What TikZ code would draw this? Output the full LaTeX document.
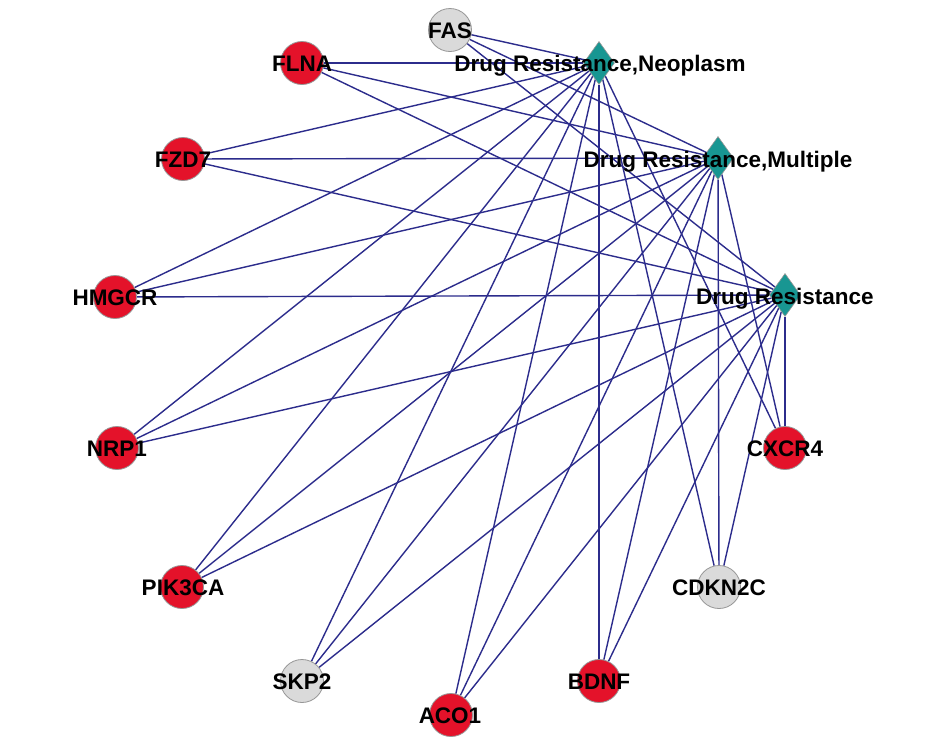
\documentclass[tikz,border=0pt]{standalone}
\usepackage{fontspec}
\setmainfont{Liberation Sans}
\usetikzlibrary{shapes.geometric,backgrounds}
\definecolor{gred}{RGB}{228,18,42}
\definecolor{ggray}{RGB}{218,218,218}
\definecolor{gteal}{RGB}{24,150,146}
\definecolor{gedge}{RGB}{44,44,140}
\definecolor{gline}{RGB}{150,150,150}
\begin{document}
\begin{tikzpicture}[x=1pt,y=-1pt,
  gene/.style={circle,draw=gline,line width=0.8pt,minimum size=43pt,inner sep=0pt},
  redgene/.style={gene,fill=gred},
  graygene/.style={gene,fill=ggray},
  disease/.style={diamond,draw=gline,line width=0.6pt,fill=gteal,minimum width=31pt,minimum height=43pt,inner sep=0pt},
  lbl/.style={font=\fontsize{22.5}{26}\selectfont\bfseries,inner sep=0pt,anchor=base},
  edge/.style={draw=gedge,line width=1.4pt}]
\useasboundingbox (0,0) rectangle (944,750);
% gene nodes
\node[graygene] (fas)    at (450,30)  {};
\node[redgene]  (flna)   at (302,63)  {};
\node[redgene]  (fzd7)   at (183,159) {};
\node[redgene]  (hmgcr)  at (115,297) {};
\node[redgene]  (nrp1)   at (117,448) {};
\node[redgene]  (pik3ca) at (182,587) {};
\node[graygene] (skp2)   at (302,681) {};
\node[redgene]  (aco1)   at (451,715) {};
\node[redgene]  (bdnf)   at (599,681) {};
\node[graygene] (cdkn2c) at (719,587) {};
\node[redgene]  (cxcr4)  at (785,448) {};
% disease nodes
\node[disease] (drn) at (599,63)  {};
\node[disease] (drm) at (718,158) {};
\node[disease] (dr)  at (785,295) {};
% background and edges
\begin{pgfonlayer}{background}
\fill[white] (0,0) rectangle (944,750);
\foreach \g in {fas,flna,fzd7,hmgcr,nrp1,pik3ca,skp2,aco1,bdnf,cdkn2c,cxcr4}
  \foreach \d in {drn,drm,dr}
    \draw[edge] (\g) -- (\d);
\end{pgfonlayer}
% labels
\node[lbl] (lfas)    at (450,38)  {FAS};
\node[lbl] (lflna)   at (302,71)  {FLNA};
\node[lbl] (lfzd7)   at (183,167) {FZD7};
\node[lbl] (lhmgcr)  at (115,305) {HMGCR};
\node[lbl] (lnrp1)   at (117,456) {NRP1};
\node[lbl] (lpik3ca) at (183,595) {PIK3CA};
\node[lbl] (lskp2)   at (302,689) {SKP2};
\node[lbl] (laco1)   at (450,723) {ACO1};
\node[lbl] (lbdnf)   at (599,689) {BDNF};
\node[lbl] (lcdkn2c) at (719,595) {CDKN2C};
\node[lbl] (lcxcr4)  at (785,456) {CXCR4};
\node[lbl] (ldrn) at (600,71)  {Drug Resistance,Neoplasm};
\node[lbl] (ldrm) at (718,167) {Drug Resistance,Multiple};
\node[lbl] (ldr)  at (785,304) {Drug Resistance};
\end{tikzpicture}
\end{document}
